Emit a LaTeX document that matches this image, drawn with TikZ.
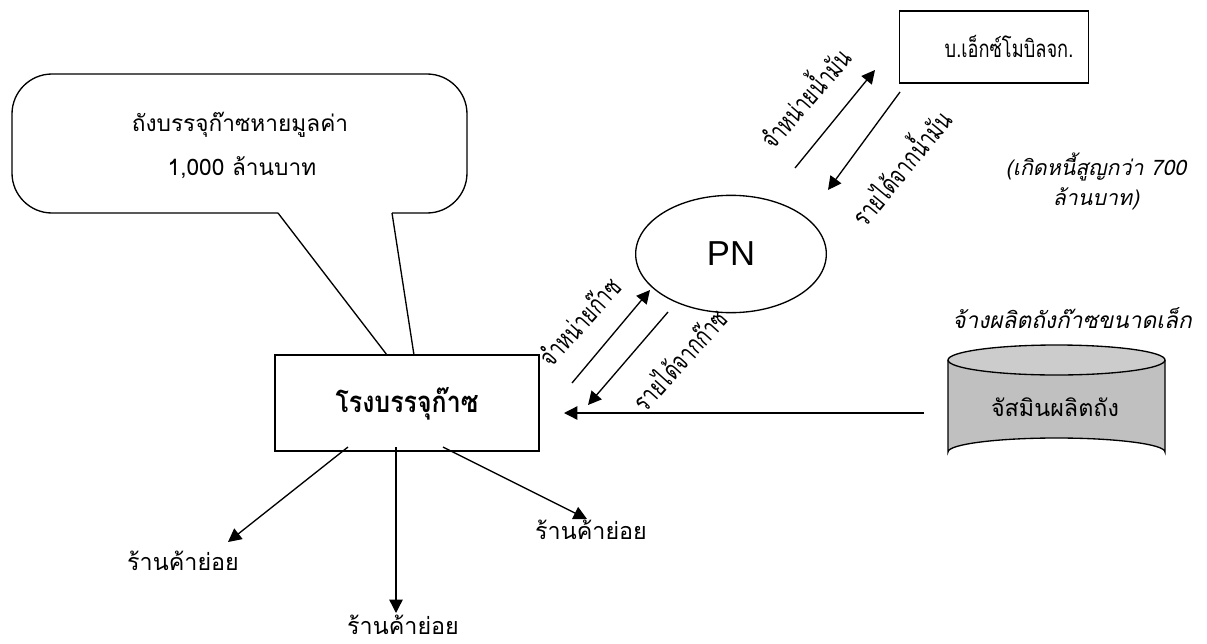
\documentclass[tikz,border=0pt]{standalone}
\usepackage{fontspec}
\setmainfont{Liberation Sans}
\newfontfamily\thai[Script=Thai]{Loma}
\usetikzlibrary{arrows.meta,shapes.geometric}
\definecolor{cylgray}{RGB}{192,192,192}
\definecolor{cyltop}{RGB}{204,204,204}
\tikzset{
  conn/.style={line width=1pt,-{Triangle[length=10pt,width=10pt]}},
  plain/.style={line width=1pt},
  boxnode/.style={draw,line width=1pt,inner sep=0pt},
  shop/.style={font=\thai\fontsize{17.5}{19}\selectfont,inner sep=0pt},
  rotlab/.style={font=\thai\fontsize{20}{22}\selectfont,inner sep=0pt},
}
\begin{document}
\begin{tikzpicture}[x=0.75pt,y=-0.75pt]
\useasboundingbox (0,0) rectangle (1207,643);
% callout
\draw[line width=1pt,rounded corners=30] (278,213) -- (12,213) -- (12,74) -- (467,74) -- (467,213) -- (392,213);
\node[font=\thai\fontsize{17}{19}\selectfont,inner sep=0pt] (calloutA) at (240,125) {ถังบรรจุก๊าซหายมูลค่า};
\node[font=\thai\fontsize{17}{19}\selectfont,inner sep=0pt] (calloutB) at (242,168) {1,000 ล้านบาท};
% main box
\node[boxnode,fill=white,minimum width=198pt,minimum height=72pt] (plant) at (407,403) {};
\node[font=\thai\fontsize{22}{24}\selectfont\bfseries,inner sep=0pt,xscale=0.85] (plantT) at (407,404) {โรงบรรจุก๊าซ};
\coordinate (tailA) at (387,355);
\coordinate (tailB) at (414,355);
\draw[plain] (278,213) -- (tailA);
\draw[plain] (392,213) -- (tailB);
% exxon box
\node[boxnode,minimum width=142pt,minimum height=54pt] (exxon) at (994,47) {};
\node[font=\thai\fontsize{18}{20}\selectfont,inner sep=0pt,xscale=0.76] (exxonT) at (1009,46) {บ.เอ็กซ์โมบิลจก.};
% PN ellipse
\node[draw,ellipse,line width=1pt,minimum width=143pt,minimum height=88pt,inner sep=0pt,font=\fontsize{26}{28}\selectfont] (pn) at (731,254) {PN};
% oil arrows
\coordinate (o1s) at (795,168);
\coordinate (o1e) at (875,70);
\coordinate (o2s) at (900,92);
\coordinate (o2e) at (828,190);
\draw[conn] (o1s) -- (o1e);
\draw[conn] (o2s) -- (o2e);
\node[rotlab,rotate=49,xscale=0.73] (lo1) at (803,96) {จำหน่ายน้ำมัน};
\node[rotlab,rotate=50.5,xscale=0.73] (lo2) at (899,166) {รายได้จากน้ำมัน};
% gas arrows
\coordinate (g1s) at (572,383);
\coordinate (g1e) at (650,290);
\coordinate (g2s) at (668,312);
\coordinate (g2e) at (588,405);
\draw[conn] (g1s) -- (g1e);
\draw[conn] (g2s) -- (g2e);
\node[rotlab,rotate=48,xscale=0.73] (lg1) at (579,321) {จำหน่ายก๊าซ};
\node[rotlab,rotate=48,xscale=0.73] (lg2) at (679,359) {รายได้จากก๊าซ};
% debt note
\node[font=\thai\fontsize{16}{18}\selectfont\itshape,inner sep=0pt] (debtA) at (1096,167) {(เกิดหนี้สูญกว่า 700};
\node[font=\thai\fontsize{16}{18}\selectfont\itshape,inner sep=0pt] (debtB) at (1096,199) {ล้านบาท)};
% cylinder
\path[fill=cylgray] (948,360) -- (948,452) arc[start angle=180,end angle=360,x radius=108.5,y radius=14] -- (1165,360) -- cycle;
\draw[line width=1pt] (948,360) -- (948,452) arc[start angle=180,end angle=360,x radius=108.5,y radius=14] -- (1165,360);
\draw[line width=1pt,fill=cyltop] (1056.5,360) ellipse[x radius=108.5,y radius=15];
\node[font=\thai\fontsize{17.5}{19}\selectfont,inner sep=0pt] (jas) at (1055,407) {จัสมินผลิตถัง};
\coordinate (jasW) at (924,413);
\coordinate (plantE) at (564,413);
\node[font=\thai\fontsize{17}{19}\selectfont\itshape,inner sep=0pt] (hire) at (1072,318) {จ้างผลิตถังก๊าซขนาดเล็ก};
\draw[conn] (jasW) -- (plantE);
% shops
\node[shop] (shopL) at (183,561) {ร้านค้าย่อย};
\node[shop] (shopM) at (403,625) {ร้านค้าย่อย};
\node[shop] (shopR) at (591,530) {ร้านค้าย่อย};
\coordinate (b1) at (348,447);
\coordinate (b2) at (396,447);
\coordinate (b3) at (443,447);
\coordinate (shopLt) at (228,542);
\coordinate (shopMt) at (396,613);
\coordinate (shopRt) at (587,519);
\draw[conn] (b1) -- (shopLt);
\draw[conn] (b2) -- (shopMt);
\draw[conn] (b3) -- (shopRt);
\end{tikzpicture}
\end{document}
